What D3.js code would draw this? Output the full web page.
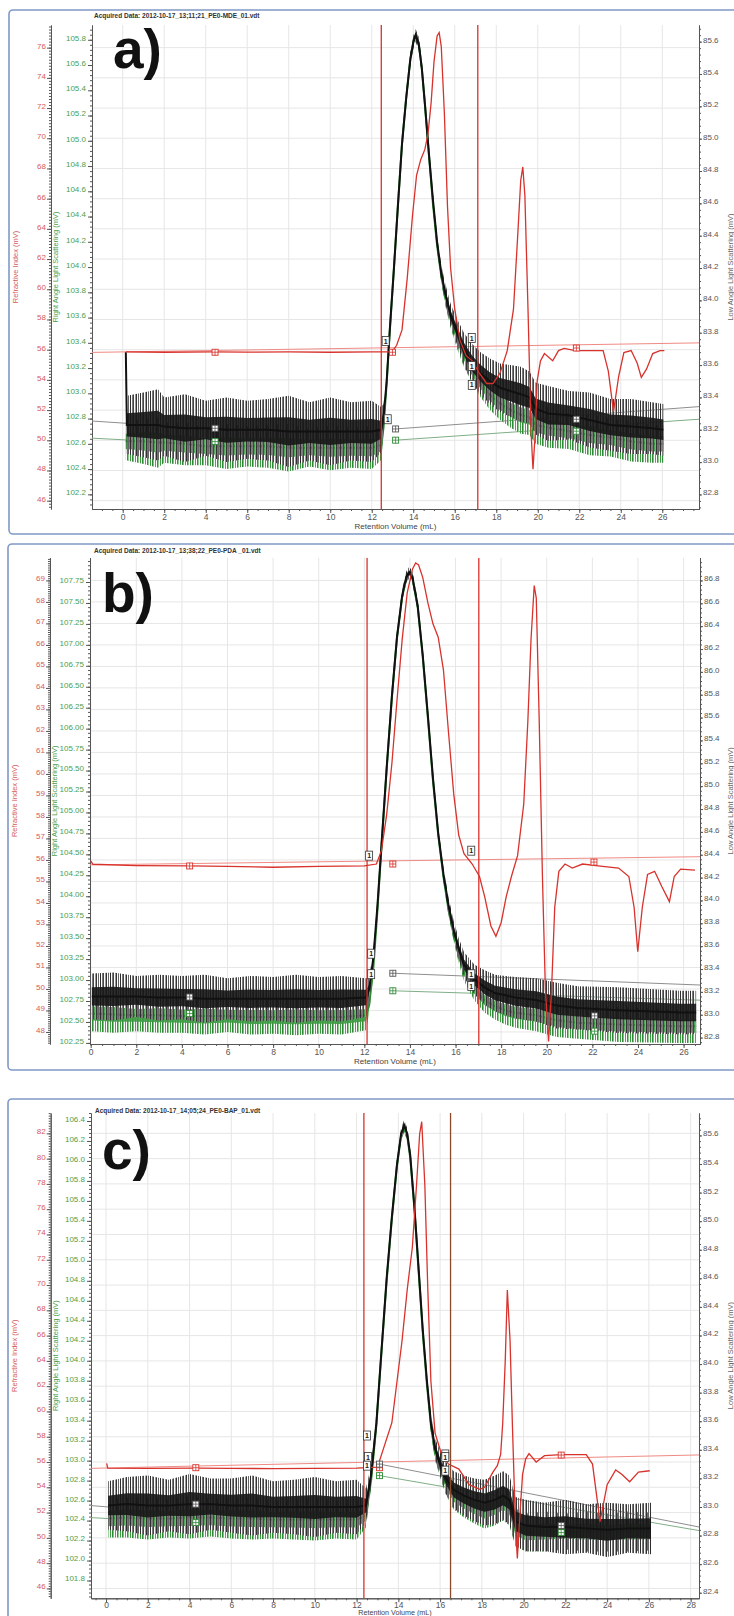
<!DOCTYPE html>
<html>
<head>
<meta charset="utf-8">
<script src="https://cdn.jsdelivr.net/npm/d3@7/dist/d3.min.js"></script>
<style>
  body { margin: 0; background: #fff; }
  svg { display: block; font-family: "Liberation Sans", Arial, sans-serif; }
</style>
</head>
<body>
<svg id="chart" width="734" height="1616"></svg>
<script>
// DATA
// titles of the three runs
const acquiredTitles = [
    "Acquired Data: 2012-10-17_13;11;21_PE0-MDE_01.vdt",
    "Acquired Data: 2012-10-17_13;38;22_PE0-PDA _01.vdt",
    "Acquired Data: 2012-10-17_14;05;24_PE0-BAP_01.vdt"
];
const panelLetters = ["a)", "b)", "c)"];

// tick labels
const xTicksA = [0, 2, 4, 6, 8, 10, 12, 14, 16, 18, 20, 22, 24, 26];
const xTicksB = [0, 2, 4, 6, 8, 10, 12, 14, 16, 18, 20, 22, 24, 26];
const xTicksC = [0, 2, 4, 6, 8, 10, 12, 14, 16, 18, 20, 22, 24, 26, 28];
const riTicksA = [46, 48, 50, 52, 54, 56, 58, 60, 62, 64, 66, 68, 70, 72, 74, 76];
const ralsTicksA = [102.2, 102.4, 102.6, 102.8, 103.0, 103.2, 103.4, 103.6, 103.8, 104.0, 104.2, 104.4, 104.6, 104.8, 105.0, 105.2, 105.4, 105.6, 105.8];
const lalsTicksA = [82.8, 83.0, 83.2, 83.4, 83.6, 83.8, 84.0, 84.2, 84.4, 84.6, 84.8, 85.0, 85.2, 85.4, 85.6];
const riTicksB = [48, 49, 50, 51, 52, 53, 54, 55, 56, 57, 58, 59, 60, 61, 62, 63, 64, 65, 66, 67, 68, 69];
const ralsTicksB = [102.25, 102.5, 102.75, 103.0, 103.25, 103.5, 103.75, 104.0, 104.25, 104.5, 104.75, 105.0, 105.25, 105.5, 105.75, 106.0, 106.25, 106.5, 106.75, 107.0, 107.25, 107.5, 107.75];
const lalsTicksB = [82.8, 83.0, 83.2, 83.4, 83.6, 83.8, 84.0, 84.2, 84.4, 84.6, 84.8, 85.0, 85.2, 85.4, 85.6, 85.8, 86.0, 86.2, 86.4, 86.6, 86.8];
const riTicksC = [46, 48, 50, 52, 54, 56, 58, 60, 62, 64, 66, 68, 70, 72, 74, 76, 78, 80, 82];
const ralsTicksC = [101.8, 102.0, 102.2, 102.4, 102.6, 102.8, 103.0, 103.2, 103.4, 103.6, 103.8, 104.0, 104.2, 104.4, 104.6, 104.8, 105.0, 105.2, 105.4, 105.6, 105.8, 106.0, 106.2, 106.4];
const lalsTicksC = [82.4, 82.6, 82.8, 83.0, 83.2, 83.4, 83.6, 83.8, 84.0, 84.2, 84.4, 84.6, 84.8, 85.0, 85.2, 85.4, 85.6];

// refractive index traces: [retention volume (mL), signal (mV)]
const riA = [[0.15,55.85],[2,55.83],[4.3,55.86],[6,55.84],[8,55.85],[10,55.83],[12,55.85],[12.97,55.85],[13.2,56.29],[13.46,57.31],[13.71,60.72],[13.96,64.82],[14.16,67.55],[14.36,68.58],[14.56,69.26],[14.71,70.28],[14.86,72.33],[15.0,75.06],[15.15,76.77],[15.25,77.0],[15.35,76.09],[15.5,71.65],[15.65,65.5],[15.8,61.41],[16.0,58.68],[16.25,56.63],[16.55,55.6],[16.84,55.26],[17.19,54.44],[17.54,53.76],[17.84,53.76],[18.18,54.44],[18.53,55.94],[18.83,58.68],[19.03,63.46],[19.18,67.21],[19.28,68.1],[19.38,66.19],[19.53,58.68],[19.68,50.48],[19.77,48.09],[19.88,50.48],[19.97,53.9],[20.13,55.26],[20.32,55.74],[20.72,55.26],[21.0,55.94],[21.27,56.08],[21.81,55.94],[23.15,55.94],[23.4,54.58],[23.65,51.9],[23.9,54.24],[24.15,55.81],[24.5,55.94],[24.79,55.12],[24.99,54.17],[25.24,54.71],[25.54,55.74],[25.89,55.94],[26.1,55.94]];
const riB = [[0,55.96],[0.1,55.8],[2,55.74],[4.3,55.72],[6,55.7],[8,55.66],[10,55.7],[12,55.72],[12.53,55.81],[12.75,56.43],[12.98,58.11],[13.21,60.51],[13.43,63.39],[13.66,66.26],[13.88,68.42],[14.11,69.52],[14.25,69.81],[14.38,69.72],[14.56,69.14],[14.79,67.94],[15.01,66.98],[15.24,66.36],[15.47,64.83],[15.69,61.95],[15.92,59.07],[16.14,57.15],[16.37,56.29],[16.73,55.81],[17.05,55.23],[17.28,54.28],[17.55,52.93],[17.77,52.45],[18.0,53.08],[18.22,54.28],[18.45,55.23],[18.72,56.2],[18.99,58.59],[19.17,62.43],[19.31,66.26],[19.45,68.76],[19.54,68.18],[19.67,62.43],[19.81,55.23],[19.94,49.96],[20.08,47.56],[20.21,49.96],[20.35,53.8],[20.53,55.47],[20.8,55.81],[21.12,55.62],[21.57,55.81],[22.25,55.72],[23.15,55.62],[23.6,55.23],[23.83,53.8],[23.99,51.73],[24.19,53.8],[24.42,55.33],[24.73,55.47],[25.05,54.75],[25.38,54.06],[25.59,55.23],[25.87,55.57],[26.5,55.53]];
const riC = [[0.03,55.9],[0.08,55.52],[2,55.5],[4.3,55.52],[6,55.5],[8,55.48],[10,55.5],[12,55.52],[13.0,55.6],[13.69,59.11],[14.18,65.63],[14.43,69.71],[14.67,72.97],[14.87,77.87],[15.02,81.95],[15.12,82.92],[15.27,77.87],[15.41,69.71],[15.56,62.37],[15.76,58.29],[16.06,56.66],[16.4,55.84],[16.9,55.44],[17.39,54.21],[17.9,53.84],[18.13,54.0],[18.53,55.2],[18.74,55.71],[18.9,56.6],[19.0,59.11],[19.12,64.0],[19.22,69.6],[19.35,65.63],[19.46,59.11],[19.61,50.95],[19.7,48.38],[19.82,51.77],[19.95,55.03],[20.1,56.25],[20.26,56.66],[20.6,56.0],[21.0,56.5],[21.8,56.58],[23.0,56.58],[23.3,55.84],[23.66,51.28],[24.0,54.21],[24.41,55.37],[24.7,55.03],[25.08,54.44],[25.5,55.2],[26.04,55.31]];

// right angle light scattering: [volume, signal (mV), noise half-width (mV)]
const ralsA = [[0.15,102.62,0.15],[1,102.62,0.18],[1.7,102.61,0.2],[2,102.61,0.16],[3,102.6,0.17],[4,102.58,0.15],[5,102.58,0.18],[6,102.58,0.16],[7,102.58,0.17],[8,102.57,0.19],[9,102.57,0.15],[10,102.57,0.18],[11,102.57,0.16],[12,102.57,0.17],[12.45,102.59,0.12],[12.57,102.73,0.07],[12.72,103.08,0.05],[12.87,103.49,0.04],[13.07,103.99,0.04],[13.26,104.49,0.04],[13.46,104.98,0.04],[13.66,105.34,0.04],[13.86,105.65,0.04],[14.01,105.79,0.04],[14.11,105.83,0.04],[14.26,105.78,0.04],[14.41,105.58,0.04],[14.56,105.29,0.04],[14.76,104.88,0.04],[14.95,104.5,0.04],[15.15,104.17,0.04],[15.35,103.93,0.05],[15.55,103.75,0.06],[15.8,103.59,0.07],[16.1,103.44,0.08],[16.44,103.3,0.09],[16.84,103.18,0.1],[17.24,103.08,0.11],[17.69,102.99,0.12],[18.18,102.92,0.13],[18.68,102.87,0.14],[19.18,102.83,0.15],[19.6,102.81,0.14],[19.9,102.75,0.15],[20.5,102.73,0.16],[21.5,102.7,0.14],[22.5,102.67,0.16],[23.5,102.65,0.15],[24.5,102.62,0.16],[25.5,102.6,0.15],[26.05,102.6,0.15]];
const ralsB = [[0.05,102.6,0.21],[1,102.59,0.22],[2,102.58,0.19],[3,102.58,0.21],[4,102.57,0.2],[5,102.57,0.22],[6,102.57,0.19],[7,102.56,0.21],[8,102.56,0.2],[9,102.56,0.22],[10,102.56,0.2],[11,102.56,0.21],[12.07,102.58,0.18],[12.21,102.7,0.1],[12.39,103.13,0.07],[12.57,103.81,0.06],[12.75,104.58,0.05],[12.98,105.52,0.05],[13.21,106.38,0.05],[13.43,107.08,0.05],[13.66,107.57,0.05],[13.84,107.79,0.05],[13.97,107.86,0.05],[14.11,107.79,0.05],[14.34,107.45,0.05],[14.56,106.86,0.05],[14.79,106.12,0.05],[15.01,105.38,0.05],[15.24,104.73,0.05],[15.47,104.23,0.06],[15.69,103.84,0.07],[15.92,103.54,0.08],[16.14,103.29,0.09],[16.37,103.1,0.11],[16.82,102.89,0.13],[17.28,102.76,0.15],[17.73,102.69,0.16],[18.18,102.64,0.17],[18.63,102.61,0.18],[19.54,102.58,0.19],[20.44,102.52,0.2],[21.35,102.49,0.19],[23.15,102.47,0.21],[25.87,102.45,0.2],[26.55,102.45,0.2]];
const ralsC = [[0.1,102.42,0.19],[1,102.43,0.2],[2,102.42,0.21],[3,102.42,0.19],[4,102.43,0.21],[5,102.43,0.19],[6,102.42,0.2],[7,102.42,0.21],[8,102.41,0.19],[9,102.41,0.2],[10,102.41,0.21],[11,102.41,0.19],[12,102.41,0.2],[12.45,102.45,0.12],[12.7,102.81,0.07],[12.95,103.36,0.05],[13.19,104.08,0.04],[13.44,104.8,0.04],[13.69,105.42,0.04],[13.93,105.94,0.04],[14.13,106.25,0.04],[14.28,106.32,0.04],[14.43,106.24,0.04],[14.57,106.03,0.04],[14.77,105.52,0.04],[14.97,104.9,0.04],[15.17,104.28,0.04],[15.37,103.76,0.05],[15.56,103.35,0.06],[15.76,103.07,0.07],[16.01,102.92,0.09],[16.25,102.78,0.11],[16.65,102.64,0.13],[17.14,102.58,0.15],[17.64,102.53,0.16],[18.13,102.49,0.17],[18.62,102.53,0.18],[19.02,102.58,0.18],[19.32,102.53,0.18],[19.61,102.33,0.19],[20.1,102.28,0.19],[21,102.29,0.2],[22,102.29,0.18],[23,102.29,0.2],[24,102.28,0.19],[25,102.29,0.2],[26.1,102.29,0.19]];

// low angle light scattering: [volume, signal (mV), noise half-width (mV)]
const lalsA = [[0.15,83.68,0],[0.2,83.23,0.18],[1,83.23,0.2],[1.7,83.23,0.22],[2,83.22,0.18],[3,83.21,0.21],[4,83.21,0.17],[5,83.2,0.2],[6,83.2,0.18],[7,83.2,0.19],[8,83.19,0.22],[9,83.19,0.18],[10,83.19,0.21],[11,83.19,0.18],[12,83.19,0.19],[12.45,83.2,0.14],[12.57,83.28,0.08],[12.72,83.5,0.05],[12.87,83.82,0.04],[13.07,84.2,0.04],[13.26,84.58,0.04],[13.46,84.97,0.04],[13.66,85.25,0.04],[13.86,85.49,0.04],[14.01,85.6,0.04],[14.11,85.64,0.04],[14.26,85.59,0.04],[14.41,85.44,0.04],[14.56,85.22,0.04],[14.76,84.9,0.04],[14.95,84.62,0.04],[15.15,84.36,0.04],[15.35,84.17,0.05],[15.55,84.04,0.06],[15.8,83.91,0.07],[16.1,83.81,0.08],[16.44,83.7,0.1],[16.84,83.61,0.12],[17.24,83.55,0.13],[17.69,83.5,0.14],[18.18,83.46,0.15],[18.68,83.44,0.16],[19.18,83.42,0.17],[19.6,83.4,0.16],[19.9,83.33,0.16],[20.5,83.3,0.17],[21.5,83.29,0.15],[22.5,83.26,0.17],[23.5,83.23,0.16],[24.5,83.22,0.17],[25.5,83.21,0.16],[26.05,83.2,0.16]];
const lalsB = [[0.05,83.16,0.2],[1,83.16,0.21],[2,83.16,0.18],[3,83.15,0.2],[4,83.15,0.19],[5,83.14,0.21],[6,83.14,0.18],[7,83.14,0.2],[8,83.14,0.19],[9,83.14,0.21],[10,83.14,0.19],[11,83.14,0.2],[12.07,83.15,0.17],[12.21,83.22,0.1],[12.39,83.49,0.07],[12.57,83.94,0.06],[12.75,84.48,0.05],[12.98,85.16,0.05],[13.21,85.79,0.05],[13.43,86.3,0.05],[13.66,86.67,0.05],[13.84,86.83,0.05],[13.97,86.87,0.05],[14.11,86.83,0.05],[14.34,86.58,0.05],[14.56,86.15,0.05],[14.79,85.61,0.05],[15.01,85.07,0.05],[15.24,84.59,0.05],[15.47,84.23,0.06],[15.69,83.96,0.07],[15.92,83.74,0.08],[16.14,83.58,0.09],[16.37,83.44,0.11],[16.82,83.31,0.13],[17.28,83.24,0.15],[17.73,83.19,0.16],[18.18,83.17,0.17],[18.63,83.15,0.18],[19.54,83.13,0.19],[20.44,83.08,0.2],[21.35,83.06,0.19],[23.15,83.04,0.2],[25.87,83.02,0.19],[26.55,83.02,0.19]];
const lalsC = [[0.1,83.01,0.17],[1,83.02,0.19],[2,83.01,0.21],[3,83.01,0.18],[4,83.02,0.21],[5,83.02,0.18],[6,83.01,0.19],[7,83.01,0.21],[8,83.0,0.18],[9,83.0,0.19],[10,83.0,0.21],[11,83.0,0.18],[12,83.0,0.19],[12.45,83.01,0.12],[12.7,83.23,0.07],[12.95,83.59,0.05],[13.19,84.09,0.04],[13.44,84.6,0.04],[13.69,85.03,0.04],[13.93,85.39,0.04],[14.13,85.61,0.04],[14.28,85.67,0.04],[14.43,85.61,0.04],[14.57,85.46,0.04],[14.77,85.1,0.04],[14.97,84.67,0.04],[15.17,84.24,0.04],[15.37,83.88,0.05],[15.56,83.59,0.06],[15.76,83.41,0.07],[16.01,83.3,0.09],[16.25,83.21,0.11],[16.65,83.12,0.13],[17.14,83.08,0.14],[17.64,83.05,0.15],[18.13,83.03,0.16],[18.62,83.05,0.17],[19.02,83.08,0.17],[19.32,83.05,0.17],[19.61,82.9,0.17],[20.1,82.87,0.18],[21,82.86,0.17],[22,82.86,0.19],[23,82.85,0.17],[24,82.84,0.19],[25,82.85,0.17],[26.1,82.85,0.18]];

// integration limits (mL)
const cutsA = [12.46, 17.11];
const cutsB = [12.12, 17.02];
const cutsC = [12.35, 16.5];

// baselines: list of segments, each [[vol, mV], [vol, mV]]
const riBaseA = [[[-1.48, 55.82], [27.77, 56.45]]];
const lalsBaseA = [[[-1.48, 83.254], [0.17, 83.24]], [[13.15, 83.205], [27.77, 83.343]]];
const ralsBaseA = [[[-1.48, 102.645], [0.17, 102.631]], [[13.15, 102.629], [27.77, 102.795]]];
const riBaseB = [[[-0.03, 55.77], [26.72, 56.15]]];
const lalsBaseB = [[[13.25, 83.363], [26.72, 83.26]]];
const ralsBaseB = [[[13.25, 102.872], [26.72, 102.76]]];
const riBaseC = [[[-0.72, 55.5], [28.4, 56.56]]];
const lalsBaseC = [[[-0.72, 83.01], [0.1, 83.0]], [[13.1, 83.3], [28.4, 82.86]]];
const ralsBaseC = [[[-0.72, 102.43], [0.1, 102.42]], [[13.1, 102.85], [28.4, 102.3]]];

// markers: [vol, trace, mV, kind]
const marksA = [[12.67,"ri",56.58,"1"],[13.0,"ri",55.83,"sq"],[12.77,"lals",83.265,"1"],[13.15,"lals",83.205,"sq"],[13.15,"rals",102.629,"sq"],[16.82,"ri",56.78,"1"],[16.82,"lals",83.594,"1"],[16.82,"rals",103.067,"1"],[4.45,"ri",55.83,"sq"],[4.45,"lals",83.209,"sq"],[4.45,"rals",102.618,"sq"],[21.86,"ri",56.11,"sq"],[21.86,"lals",83.265,"sq"],[21.86,"rals",102.7,"sq"]];
const marksB = [[12.21,"ri",56.2,"1"],[13.25,"ri",55.81,"sq"],[12.3,"lals",83.534,"1"],[12.3,"rals",103.07,"1"],[13.25,"lals",83.363,"sq"],[13.25,"rals",102.872,"sq"],[16.69,"ri",56.43,"1"],[16.69,"lals",83.354,"1"],[16.69,"rals",102.93,"1"],[4.34,"ri",55.72,"sq"],[4.34,"lals",83.155,"sq"],[4.34,"rals",102.6,"sq"],[22.07,"ri",55.9,"sq"],[22.1,"lals",82.99,"sq"],[22.1,"rals",102.39,"sq"]];
const marksC = [[12.55,"ri",56.4,"1"],[13.1,"ri",55.55,"sq"],[12.5,"lals",83.5,"1"],[12.5,"rals",102.95,"1"],[13.1,"lals",83.3,"sq"],[13.1,"rals",102.85,"sq"],[16.25,"ri",56.6,"1"],[16.25,"lals",83.35,"1"],[16.25,"rals",102.9,"1"],[4.3,"ri",55.55,"sq"],[4.3,"lals",83.02,"sq"],[4.3,"rals",102.38,"sq"],[21.8,"ri",56.55,"sq"],[21.8,"lals",82.87,"sq"],[21.8,"rals",102.28,"sq"]];

// LAYOUT (pixel geometry of each panel)
const panels = [
    {id: "a", ri: riA, rals: ralsA, lals: lalsA, cuts: cutsA, marks: marksA,
     riBase: riBaseA, ralsBase: ralsBaseA, lalsBase: lalsBaseA,
     xTicks: xTicksA, riTicks: riTicksA, ralsTicks: ralsTicksA, lalsTicks: lalsTicksA,
     frame: [9, 10, 760, 524], l: 92, r: 699, t: 25, b: 509, riX: 51,
     xPad: 1, xTitleDy: 19.5, xTitleSize: 8,
     letterXY: [113, 68], titleXY: [94, 18],
     xDom: [-1.48, 27.77], riDom: [45.45, 77.5], ralsDom: [102.084, 105.917], lalsDom: [82.71, 85.703],
     riMinor: 0.2, ralsMinor: 0.04, lalsMinor: 0.04, riFmt: "d", ralsFmt: ".1f",
     cutColors: ["#d8322c", "#d8322c"]},
    {id: "b", ri: riB, rals: ralsB, lals: lalsB, cuts: cutsB, marks: marksB,
     riBase: riBaseB, ralsBase: ralsBaseB, lalsBase: lalsBaseB,
     xTicks: xTicksB, riTicks: riTicksB, ralsTicks: ralsTicksB, lalsTicks: lalsTicksB,
     frame: [8, 544, 760, 526], l: 90, r: 700, t: 557.7, b: 1044, riX: 50,
     xPad: 1, xTitleDy: 19.5, xTitleSize: 8,
     letterXY: [102, 612], titleXY: [94, 553],
     xDom: [-0.03, 26.72], riDom: [47.44, 70.056], ralsDom: [102.237, 108.04], lalsDom: [82.744, 86.999],
     riMinor: 0.1, ralsMinor: 0.05, lalsMinor: 0.04, riFmt: "d", ralsFmt: ".2f",
     cutColors: ["#d8322c", "#d8322c"]},
    {id: "c", ri: riC, rals: ralsC, lals: lalsC, cuts: cutsC, marks: marksC,
     riBase: riBaseC, ralsBase: ralsBaseC, lalsBase: lalsBaseC,
     xTicks: xTicksC, riTicks: riTicksC, ralsTicks: ralsTicksC, lalsTicks: lalsTicksC,
     frame: [8, 1099, 760, 560], l: 91, r: 699, t: 1113, b: 1598.3, riX: 50.7,
     xPad: 0, xTitleDy: 16.8, xTitleSize: 7.2,
     letterXY: [102, 1169], titleXY: [95, 1113],
     xDom: [-0.72, 28.4], riDom: [45.22, 83.61], ralsDom: [101.622, 106.48], lalsDom: [82.361, 85.757],
     riMinor: 0.2, ralsMinor: 0.04, lalsMinor: 0.04, riFmt: "d", ralsFmt: ".1f",
     cutColors: ["#d8322c", "#8a4a2a"]}
];

// colours
const RED = "#d8322c", RED_LABEL = "#d65a5a", GREEN = "#2f8a35", GREEN_LABEL = "#4c9e4c";
const GRID = "#e6e6e6", AXIS = "#555";

// DRAWING
const svg = d3.select("#chart");
const defs = svg.append("defs");

// textured fills for the noise envelopes (columns of mixed shades, null = gap)
const texture = (id, shades) => {
    const p = defs.append("pattern").attr("id", id)
        .attr("width", shades.length).attr("height", 8).attr("patternUnits", "userSpaceOnUse");
    shades.forEach((c, k) => {
        if (c) p.append("rect").attr("x", k).attr("width", 1).attr("height", 8).attr("fill", c);
    });
};
texture("texK", ["#2e2e2e", null, "#7a7a7a", "#444", null, "#9a9a9a", "#333", null, "#666", null]);
texture("texG", ["#3f9a45", null, "#2f8a35", "#7cc27f", null, "#4da653", null, "#37913d", "#8fcb8f", null]);

// style an axis group
const styleAxis = (sel, color, size) => {
    sel.select(".domain").attr("stroke", AXIS);
    sel.selectAll(".tick line").attr("stroke", AXIS);
    sel.selectAll("text").attr("fill", color).attr("font-size", size);
};

// a trace drawn as noise envelope + core + mean line
const drawNoisy = (g, data, x, y, outerFill, coreFill, lineColor) => {
    const band = (k) => d3.area()
        .x(d => x(d[0]))
        .y0(d => y(d[1] - k * d[2]))
        .y1(d => y(d[1] + k * d[2]));
    g.append("path").datum(data).attr("d", band(1)).attr("fill", outerFill);
    g.append("path").datum(data).attr("d", band(0.4)).attr("fill", coreFill).attr("opacity", 0.9);
    g.append("path").datum(data)
        .attr("d", d3.line().x(d => x(d[0])).y(d => y(d[1])))
        .attr("fill", "none").attr("stroke", lineColor).attr("stroke-width", 2);
};

const drawPanel = (p, i) => {
    const g = svg.append("g");

    // frame
    g.append("rect")
        .attr("x", p.frame[0]).attr("y", p.frame[1])
        .attr("width", p.frame[2]).attr("height", p.frame[3])
        .attr("rx", 4).attr("fill", "none")
        .attr("stroke", "#8199c6").attr("stroke-width", 1.6);

    // scales
    const x = d3.scaleLinear().domain(p.xDom).range([p.l, p.r]);
    const yRi = d3.scaleLinear().domain(p.riDom).range([p.b, p.t]);
    const yRals = d3.scaleLinear().domain(p.ralsDom).range([p.b, p.t]);
    const yLals = d3.scaleLinear().domain(p.lalsDom).range([p.b, p.t]);
    const yOf = {ri: yRi, rals: yRals, lals: yLals};

    // grid
    g.append("g").selectAll("line").data(p.xTicks).join("line")
        .attr("x1", d => x(d)).attr("x2", d => x(d))
        .attr("y1", p.t).attr("y2", p.b)
        .attr("stroke", GRID);
    g.append("g").selectAll("line").data(p.riTicks).join("line")
        .attr("x1", p.l).attr("x2", p.r)
        .attr("y1", d => yRi(d)).attr("y2", d => yRi(d))
        .attr("stroke", GRID);

    // minor tick values
    const minor = (dom, step) => d3.range(Math.ceil(dom[0] / step) * step, dom[1], step);

    // refractive index axis (outer left)
    g.append("g").attr("transform", `translate(${p.riX},0)`)
        .call(d3.axisLeft(yRi).tickValues(minor(p.riDom, p.riMinor)).tickSize(2).tickSizeOuter(0).tickFormat(""))
        .call(s => styleAxis(s, RED_LABEL, 8));
    g.append("g").attr("transform", `translate(${p.riX},0)`)
        .call(d3.axisLeft(yRi).tickValues(p.riTicks).tickSize(4).tickSizeOuter(0).tickPadding(1).tickFormat(d3.format(p.riFmt)))
        .call(s => styleAxis(s, RED_LABEL, 8))
        .call(s => s.selectAll("text").attr("dy", "0.05em"));

    // right angle light scattering axis (inner left)
    g.append("g").attr("transform", `translate(${p.l},0)`)
        .call(d3.axisLeft(yRals).tickValues(minor(p.ralsDom, p.ralsMinor)).tickSize(2).tickSizeOuter(0).tickFormat(""))
        .call(s => styleAxis(s, GREEN_LABEL, 8));
    g.append("g").attr("transform", `translate(${p.l},0)`)
        .call(d3.axisLeft(yRals).tickValues(p.ralsTicks).tickSize(4).tickSizeOuter(0).tickPadding(2).tickFormat(d3.format(p.ralsFmt)))
        .call(s => styleAxis(s, GREEN_LABEL, 8))
        .call(s => s.selectAll("text").attr("dy", "0.05em"));

    // low angle light scattering axis (right)
    g.append("g").attr("transform", `translate(${p.r},0)`)
        .call(d3.axisRight(yLals).tickValues(minor(p.lalsDom, p.lalsMinor)).tickSize(2).tickSizeOuter(0).tickFormat(""))
        .call(s => styleAxis(s, "#555", 8));
    g.append("g").attr("transform", `translate(${p.r},0)`)
        .call(d3.axisRight(yLals).tickValues(p.lalsTicks).tickSize(3).tickSizeOuter(0).tickPadding(1).tickFormat(d3.format(".1f")))
        .call(s => styleAxis(s, "#555", 8))
        .call(s => s.selectAll("text").attr("dy", "0.05em"));

    // retention volume axis
    g.append("g").attr("transform", `translate(0,${p.b})`)
        .call(d3.axisBottom(x).tickValues(minor(p.xDom, 0.5)).tickSize(2).tickSizeOuter(0).tickFormat(""))
        .call(s => styleAxis(s, "#555", 8.5));
    g.append("g").attr("transform", `translate(0,${p.b})`)
        .call(d3.axisBottom(x).tickValues(p.xTicks).tickSize(4).tickSizeOuter(0).tickPadding(p.xPad).tickFormat(d3.format("d")))
        .call(s => styleAxis(s, "#555", 8.5));

    // axis titles
    const mid = (p.t + p.b) / 2;
    g.append("text").attr("transform", `translate(${p.riX - 33.5},${mid}) rotate(-90)`)
        .attr("text-anchor", "middle").attr("font-size", 7.5).attr("fill", RED_LABEL)
        .text("Refractive Index (mV)");
    g.append("text").attr("transform", `translate(${p.riX + 7},${mid}) rotate(-90)`)
        .attr("text-anchor", "middle").attr("font-size", 7.5).attr("fill", GREEN_LABEL)
        .text("Right Angle Light Scattering (mV)");
    g.append("text").attr("transform", `translate(732.5,${mid}) rotate(-90)`)
        .attr("text-anchor", "middle").attr("font-size", 7.5).attr("fill", "#666")
        .text("Low Angle Light Scattering (mV)");
    g.append("text").attr("x", (p.l + p.r) / 2).attr("y", p.b + p.xTitleDy)
        .attr("text-anchor", "middle").attr("font-size", p.xTitleSize).attr("fill", "#444")
        .text("Retention Volume (mL)");

    // header
    g.append("text").attr("x", p.titleXY[0]).attr("y", p.titleXY[1])
        .attr("font-size", 6.5).attr("font-weight", "bold").attr("fill", "#333")
        .text(acquiredTitles[i]);

    // plot contents, clipped
    defs.append("clipPath").attr("id", "clip" + p.id)
        .append("rect").attr("x", p.l).attr("y", p.t).attr("width", p.r - p.l).attr("height", p.b - p.t);
    const pg = g.append("g").attr("clip-path", `url(#clip${p.id})`);

    // baselines
    const seg = (segs, y, color) => pg.append("g").selectAll("line").data(segs).join("line")
        .attr("x1", d => x(d[0][0])).attr("y1", d => y(d[0][1]))
        .attr("x2", d => x(d[1][0])).attr("y2", d => y(d[1][1]))
        .attr("stroke", color).attr("stroke-width", 1);
    seg(p.riBase, yRi, "#f08a84");
    seg(p.lalsBase, yLals, "#8e8e8e");
    seg(p.ralsBase, yRals, "#7fae86");

    // light scattering traces
    drawNoisy(pg, p.rals, x, yRals, "url(#texG)", "#3d9a42", GREEN);
    drawNoisy(pg, p.lals, x, yLals, "url(#texK)", "#161616", "#111");

    // refractive index trace
    pg.append("path").datum(p.ri)
        .attr("d", d3.line().x(d => x(d[0])).y(d => yRi(d[1])))
        .attr("fill", "none").attr("stroke", RED).attr("stroke-width", 1.3);

    // integration limits
    pg.append("g").selectAll("line").data(p.cuts).join("line")
        .attr("x1", d => x(d)).attr("x2", d => x(d))
        .attr("y1", p.t).attr("y2", p.b)
        .attr("stroke", (d, k) => p.cutColors[k]).attr("stroke-width", 1.3);

    // markers
    const markColor = {ri: RED, rals: GREEN, lals: "#555"};
    const squares = p.marks.filter(m => m[3] === "sq");
    const boxes = p.marks.filter(m => m[3] === "1");
    const sq = pg.append("g").selectAll("g").data(squares).join("g")
        .attr("transform", d => `translate(${x(d[0])},${yOf[d[1]](d[2])})`);
    sq.append("rect").attr("x", -3).attr("y", -3).attr("width", 6).attr("height", 6)
        .attr("fill", "#fff").attr("stroke", d => markColor[d[1]]).attr("stroke-width", 0.9);
    sq.append("path").attr("d", "M-3,0H3M0,-3V3").attr("stroke", d => markColor[d[1]]).attr("stroke-width", 0.8);
    const bx = pg.append("g").selectAll("g").data(boxes).join("g")
        .attr("transform", d => `translate(${x(d[0])},${yOf[d[1]](d[2])})`);
    bx.append("rect").attr("x", -3.5).attr("y", -4.5).attr("width", 7).attr("height", 9)
        .attr("fill", "#fff").attr("stroke", "#333").attr("stroke-width", 0.8);
    bx.append("text").attr("text-anchor", "middle").attr("y", 2.6)
        .attr("font-size", 7).attr("font-weight", "bold").attr("fill", "#222").text("1");

    // panel letter
    g.append("text").attr("x", p.letterXY[0]).attr("y", p.letterXY[1])
        .attr("font-size", 55).attr("font-weight", "bold").attr("fill", "#111")
        .text(panelLetters[i]);
};

panels.forEach(drawPanel);
</script>
</body>
</html>
